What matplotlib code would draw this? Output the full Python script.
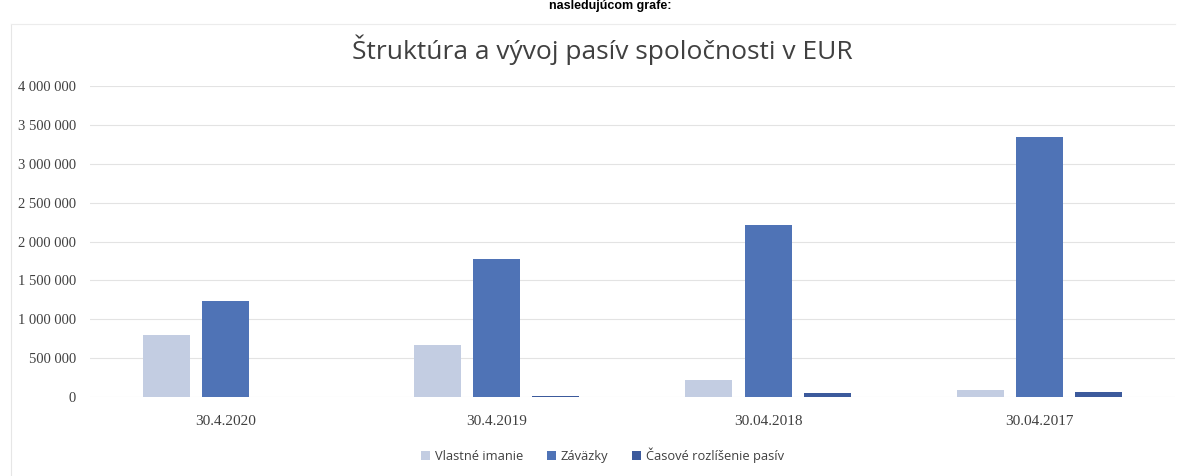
import matplotlib
matplotlib.use('Agg')
import matplotlib.pyplot as plt
import numpy as np
from matplotlib.ticker import FuncFormatter

categories = ['30.4.2020', '30.4.2019', '30.04.2018', '30.04.2017']
series_names = ['Vlastné imanie', 'Záväzky', 'Časové rozlíšenie pasív']
vlastne_imanie = [800000, 665000, 215000, 90000]
zavazky = [1235000, 1770000, 2210000, 3340000]
casove_rozlisenie = [0, 15000, 50000, 60000]
colors = ['#c3cde2', '#4f73b6', '#3c5a9c']

fig = plt.figure(figsize=(11.81, 4.76), dpi=100)
ax = fig.add_axes([0.076, 0.166, 0.919, 0.653])

x = np.arange(len(categories))
width = 0.173
step = 0.218
for i, (vals, name) in enumerate(zip([vlastne_imanie, zavazky, casove_rozlisenie], series_names)):
    ax.bar(x + (i - 1) * step, vals, width, color=colors[i], label=name, zorder=3)

ax.set_ylim(0, 4000000)
ax.set_yticks(np.arange(0, 4000001, 500000))
ax.yaxis.set_major_formatter(FuncFormatter(lambda v, p: f'{int(v):,}'.replace(',', ' ')))
ax.set_xlim(-0.5, len(categories) - 0.5)
ax.set_xticks(x)
ax.set_xticklabels(categories)
ax.grid(axis='y', color='#e3e3e3', linewidth=0.8, zorder=0)
for s in ax.spines.values():
    s.set_visible(False)
ax.tick_params(axis='both', length=0, labelcolor='#404040')
ax.tick_params(axis='x', pad=13, labelsize=11)
ax.tick_params(axis='y', pad=10, labelsize=10.5)
for lbl in ax.get_xticklabels() + ax.get_yticklabels():
    lbl.set_family('Liberation Serif')

fig.text(0.51, 0.895, 'Štruktúra a vývoj pasív spoločnosti v EUR', ha='center', va='center',
         fontsize=19, color='#404040', family='Open Sans')
fig.text(0.517, 0.999, 'nasledujúcom grafe:', ha='center', va='top',
         fontsize=9, fontweight='bold', family='Liberation Sans')

fig.legend(loc='center', bbox_to_anchor=(0.51, 0.044), ncol=3, frameon=False,
           handlelength=0.7, handleheight=0.7, handletextpad=0.4,
           columnspacing=1.8, labelcolor='#404040', prop={'family': 'Open Sans', 'size': 9.3})

# faint chart frame
fig.add_artist(plt.Line2D([0.009, 0.009], [0.0, 0.95], color='#e6e6e6', lw=0.8))
fig.add_artist(plt.Line2D([0.009, 0.995], [0.95, 0.95], color='#ececec', lw=0.8))

fig.savefig('out.png', dpi=100)
